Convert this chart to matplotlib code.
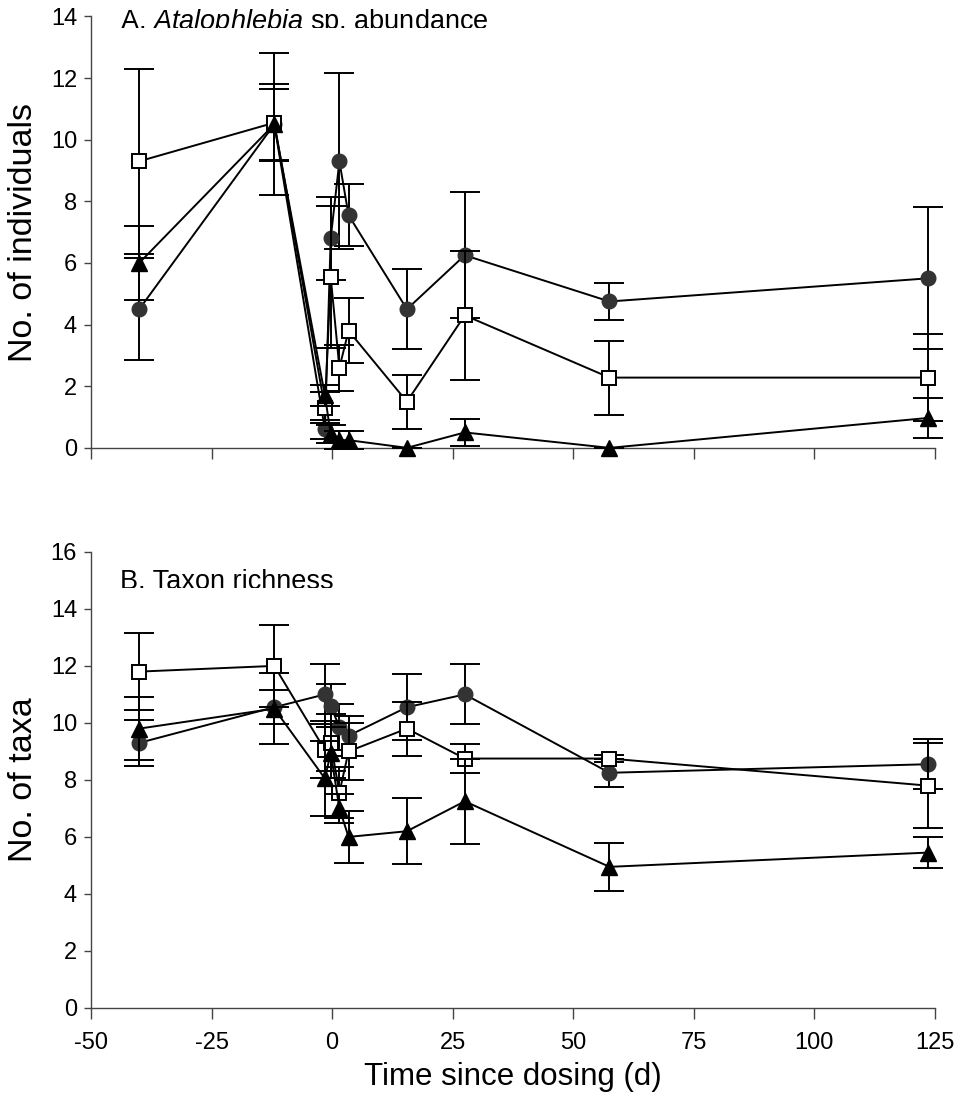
import matplotlib
matplotlib.use("Agg")
import matplotlib.pyplot as plt
from matplotlib.transforms import Bbox, TransformedBbox

plt.rcParams['font.family'] = ['Liberation Sans', 'DejaVu Sans']
plt.rcParams['mathtext.fontset'] = 'custom'
plt.rcParams['mathtext.rm'] = 'Liberation Sans'
plt.rcParams['mathtext.it'] = 'Liberation Sans:italic'

# sampling days (relative to dosing)
days = [-40, -12, -1.5, -0.3, 1.5, 3.4, 15.5, 27.5, 57.5, 123.5]

# A. Atalophlebia abundance
circ_a = [4.5, 10.5, 0.6, 6.8, 9.3, 7.55, 4.5, 6.25, 4.75, 5.5]
circ_a_err = [1.65, 2.3, 0.3, 1.35, 2.85, 1.0, 1.3, 2.05, 0.6, 2.3]
sq_a = [9.3, 10.55, 1.3, 5.55, 2.6, 3.8, 1.5, 4.3, 2.28, 2.28]
sq_a_err = [3.0, 1.25, 0.5, 2.3, 0.75, 1.05, 0.88, 2.1, 1.2, 1.4]
tri_a = [6.0, 10.5, 1.7, 0.45, 0.25, 0.25, 0.0, 0.5, 0.0, 0.97]
tri_a_err = [1.2, 1.15, 0.35, 0.3, 0.3, 0.3, 0.0, 0.45, 0.0, 0.65]

# B. taxon richness
circ_b = [9.3, 10.55, 11.0, 10.6, 9.85, 9.55, 10.55, 11.0, 8.25, 8.55]
circ_b_err = [0.8, 0.6, 1.05, 0.75, 0.8, 0.7, 1.15, 1.05, 0.5, 0.88]
sq_b = [11.8, 12.0, 9.05, 9.3, 7.55, 9.0, 9.8, 8.75, 8.75, 7.8]
sq_b_err = [1.35, 1.45, 1.0, 1.0, 0.9, 1.0, 0.95, 0.5, 0.12, 1.5]
tri_b = [9.8, 10.5, 8.05, 8.95, 7.0, 6.0, 6.2, 7.25, 4.95, 5.45]
tri_b_err = [1.1, 1.25, 1.3, 0.9, 0.5, 0.9, 1.15, 1.5, 0.85, 0.55]

xticks = [-50, -25, 0, 25, 50, 75, 100, 125]

fig = plt.figure(figsize=(9.58, 10.95), dpi=100)
axA = fig.add_axes([0.095, 0.591, 0.881, 0.394])
axB = fig.add_axes([0.095, 0.0795, 0.881, 0.4165])

def draw(ax, c, ce, s, se, t, te):
    common = dict(color='black', ecolor='black', lw=1.4, elinewidth=1.4,
                  capsize=11, capthick=1.4, clip_on=False)
    ax.errorbar(days, c, yerr=ce, marker='o', ms=10.5, mfc='#333333',
                mec='#333333', zorder=3, **common)
    ax.errorbar(days, s, yerr=se, marker='s', ms=9.5, mfc='white',
                mec='black', mew=1.4, zorder=4, **common)
    ax.errorbar(days, t, yerr=te, marker='^', ms=11.5, mfc='black',
                mec='black', zorder=5, **common)
    ax.set_xlim(-50, 125)
    ax.set_xticks(xticks)
    for side in ['top', 'right']:
        ax.spines[side].set_visible(False)
    for side in ['left', 'bottom']:
        ax.spines[side].set_color('#444444')
        ax.spines[side].set_linewidth(1.0)
    ax.tick_params(axis='both', colors='#444444', labelcolor='black',
                   labelsize=17, width=1.0)
    ax.tick_params(axis='y', length=5, pad=5)
    ax.tick_params(axis='x', length=8, pad=9)

draw(axA, circ_a, circ_a_err, sq_a, sq_a_err, tri_a, tri_a_err)
axA.set_ylim(0, 14)
axA.set_yticks(range(0, 15, 2))
axA.set_xticklabels([])
axA.set_ylabel('No. of individuals', fontsize=24.5)

draw(axB, circ_b, circ_b_err, sq_b, sq_b_err, tri_b, tri_b_err)
axB.set_ylim(0, 16)
axB.set_yticks(range(0, 17, 2))
axB.set_xticklabels([str(v) for v in xticks])
axB.set_ylabel('No. of taxa', fontsize=24.5)
axB.set_xlabel('Time since dosing (d)', fontsize=22.5)

axA.yaxis.set_label_coords(-0.062, 0.5)
axB.yaxis.set_label_coords(-0.062, 0.5)
axB.xaxis.set_label_coords(0.5, -0.118)

# panel titles, cut off at the bottom like the original
tA = fig.text(120 / 958, 1 - 29 / 1095, r'A. $\mathit{Atalophlebia}$ sp. abundance',
              fontsize=19.5, va='baseline', ha='left')
tA.set_clip_box(TransformedBbox(Bbox.from_extents(0, 1 - 27.5 / 1095, 1, 1), fig.transFigure))
tA.set_clip_on(True)
tB = fig.text(120 / 958, 1 - 589 / 1095, 'B. Taxon richness',
              fontsize=19.5, va='baseline', ha='left')
tB.set_clip_box(TransformedBbox(Bbox.from_extents(0, 1 - 587.5 / 1095, 1, 1 - 555 / 1095),
                                fig.transFigure))
tB.set_clip_on(True)

fig.savefig('out.png', dpi=100)
